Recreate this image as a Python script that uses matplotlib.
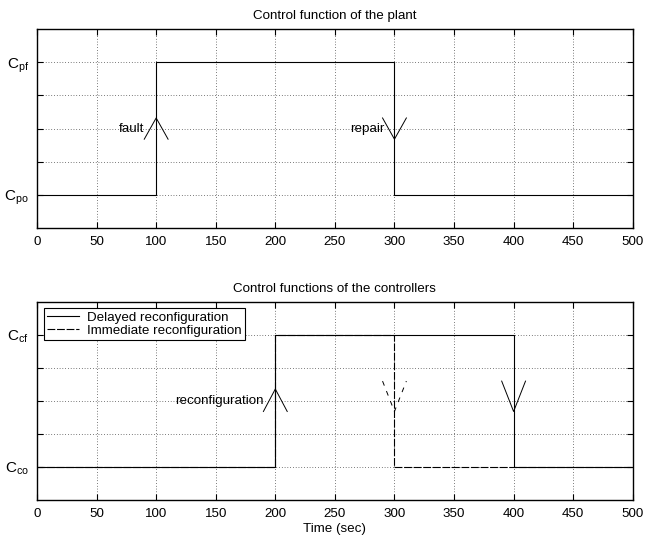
import matplotlib
matplotlib.use("Agg")
import matplotlib.pyplot as plt

plt.rcParams['font.family'] = ['Liberation Sans', 'DejaVu Sans']
plt.rcParams['mathtext.default'] = 'regular'
plt.rcParams['font.size'] = 9.6

# plant control function (switching instants in sec)
t_plant = [0, 100, 100, 300, 300, 500]
c_plant = [0, 0, 1, 1, 0, 0]

# controllers
t_delayed = [0, 200, 200, 400, 400, 500]
c_delayed = [0, 0, 1, 1, 0, 0]
t_immediate = [0, 200, 200, 300, 300, 500]
c_immediate = [0, 0, 1, 1, 0, 0]

x_ticks = [0, 50, 100, 150, 200, 250, 300, 350, 400, 450, 500]
y_ticks = [0, 0.25, 0.5, 0.75, 1]
plant_labels = ['C$_{po}$', '', '', '', 'C$_{pf}$']
ctrl_labels = ['C$_{co}$', '', '', '', 'C$_{cf}$']


def setup_axes(ax, ylabels, title):
    ax.set_xlim(0, 500)
    ax.set_ylim(-0.25, 1.25)
    ax.set_xticks(x_ticks)
    ax.set_yticks(y_ticks)
    ax.set_yticklabels(ylabels, fontsize=11)
    ax.tick_params(direction='in', top=True, right=True, length=4, width=0.8, pad=6)
    ax.grid(True, color='black', linestyle=(0, (1, 3)), linewidth=0.5)
    for s in ax.spines.values():
        s.set_linewidth(1.0)
    ax.set_title(title, fontsize=9.6, pad=7)


def arrow(ax, x, y_tip, y_end, **kw):
    ax.plot([x - 10, x, x + 10], [y_end, y_tip, y_end], color='black', linewidth=0.7, **kw)


fig = plt.figure(figsize=(6.45, 5.38), dpi=100)
ax1 = fig.add_axes([0.0574, 0.576, 0.9236, 0.370])
ax2 = fig.add_axes([0.0574, 0.0706, 0.9236, 0.3684])

# top: plant
ax1.plot(t_plant, c_plant, color='black', linewidth=0.8)
arrow(ax1, 100, 0.58, 0.42)
arrow(ax1, 300, 0.42, 0.58)
ax1.text(90, 0.5, 'fault', ha='right', va='center')
ax1.text(292, 0.5, 'repair', ha='right', va='center')
setup_axes(ax1, plant_labels, 'Control function of the plant')

# bottom: controllers
dash = (0, (7, 1.6))
ax2.plot(t_delayed, c_delayed, color='black', linewidth=0.8, label='Delayed reconfiguration')
ax2.plot(t_immediate, c_immediate, color='black', linewidth=0.8, linestyle=dash,
         label='Immediate reconfiguration')
arrow(ax2, 200, 0.59, 0.42)
arrow(ax2, 400, 0.42, 0.65)
arrow(ax2, 300, 0.42, 0.65, linestyle=(0, (5, 6)))
ax2.text(190, 0.5, 'reconfiguration', ha='right', va='center')
setup_axes(ax2, ctrl_labels, 'Control functions of the controllers')
ax2.set_xlabel('Time (sec)', labelpad=2)

leg = ax2.legend(loc='upper left', fontsize=9.6, fancybox=False, framealpha=1,
                 edgecolor='black', borderpad=0.25, labelspacing=0.05,
                 handlelength=2.4, handletextpad=0.6, borderaxespad=0.5)
leg.get_frame().set_linewidth(0.8)

fig.savefig('out.png', dpi=100)
